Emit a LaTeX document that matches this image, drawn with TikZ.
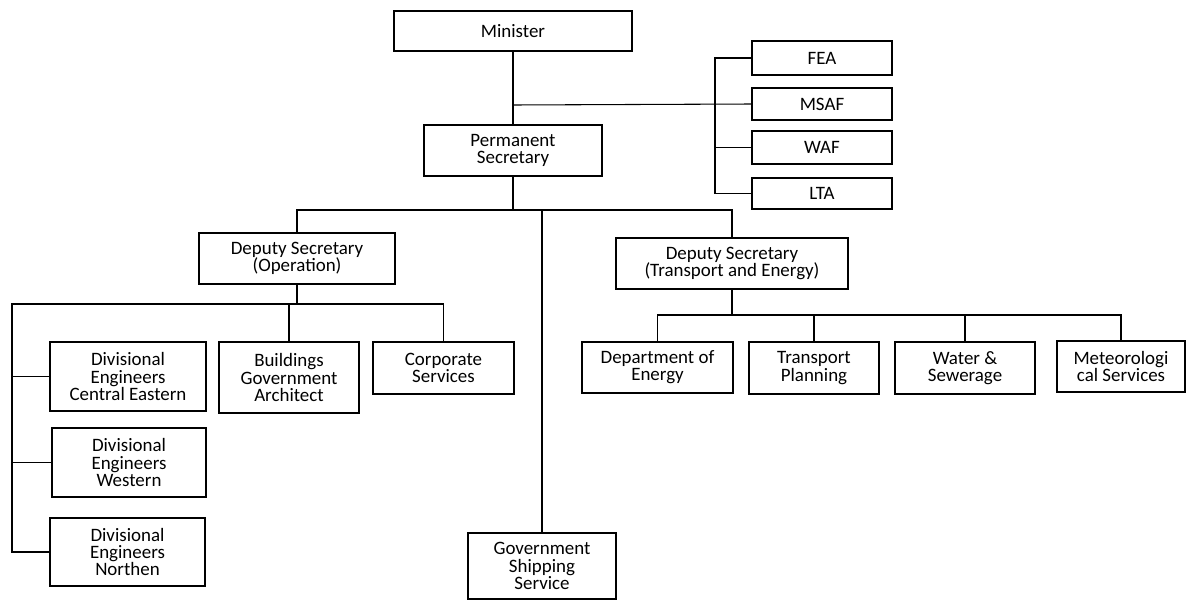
\documentclass[tikz,border=0pt]{standalone}
\usepackage{fontspec}
\setmainfont{Carlito}
\usetikzlibrary{calc}

% box given by its corners (x1,y1) (x2,y2) in pixel units
\newcommand{\orgbox}[6]{%
  \node[orgbox, minimum width={(#4-#2)*0.75pt}, minimum height={(#5-#3)*0.75pt}]
    (#1) at ({(#2+#4)/2},{(#3+#5)/2}) {#6};}

\tikzset{
  orgbox/.style={draw=black, line width=0.8pt, fill=white, inner sep=0pt,
    align=center, font=\fontsize{14.2}{12.9}\selectfont},
  link/.style={draw=black, line width=0.8pt}
}

\begin{document}
\begin{tikzpicture}[x=0.75pt, y=-0.75pt]
\useasboundingbox (0,0) rectangle (1186,600);

% bus lines
\coordinate (minbus) at (0,105);
\coordinate (brk) at (715,0);
\coordinate (psbus) at (0,210);
\coordinate (opbus) at (0,304);
\coordinate (rail) at (12,0);
\coordinate (tebus) at (0,315);

% top level
\orgbox{min}{394}{11}{632}{51}{Minister}
\orgbox{ps}{424}{125}{602}{176}{Permanent\\Secretary}

% agencies
\orgbox{fea}{752}{41}{892}{75}{FEA}
\orgbox{msaf}{752}{88}{892}{120}{MSAF}
\orgbox{waf}{752}{131}{892}{164}{WAF}
\orgbox{lta}{752}{178}{892}{209}{LTA}

% deputies and shipping
\orgbox{dso}{199}{233}{395}{284}{Deputy Secretary\\(Operation)}
\orgbox{dste}{616}{238}{848}{289}{Deputy Secretary\\(Transport and Energy)}
\orgbox{gss}{468}{533}{616}{599}{Government\\Shipping\\Service}

% operation branch
\orgbox{dce}{50}{342}{206}{411}{Divisional\\Engineers\\Central Eastern}
\orgbox{dwe}{52}{428}{206}{497}{Divisional\\Engineers\\Western}
\orgbox{dne}{50}{518}{205}{586}{Divisional\\Engineers\\Northen}
\orgbox{bga}{219}{342}{359}{413}{Buildings\\Government\\Architect}
\orgbox{corp}{373}{342}{514}{394}{Corporate\\Services}

% transport and energy branch
\orgbox{doe}{582}{342}{733}{393}{Department of\\Energy}
\orgbox{tp}{749}{342}{879}{394}{Transport\\Planning}
\orgbox{ws}{895}{342}{1035}{394}{Water \&\\Sewerage}
\orgbox{met}{1057}{341}{1185}{392}{Meteorologi\\cal Services}

% minister to permanent secretary and agencies
\draw[link] (min.south) -- (ps.north);
\draw[link] (min.south |- minbus) -- (msaf.west);
\draw[link] (fea.west) -- (brk |- fea.west) -- (brk |- lta.west) -- (lta.west);
\draw[link] (waf.west) -- (brk |- waf.west);

% permanent secretary to deputies
\draw[link] (ps.south) -- (ps.south |- psbus);
\draw[link] (dso.north) -- (dso.north |- psbus) -- (dste.north |- psbus) -- (dste.north);
\draw[link] (gss.north) -- (gss.north |- psbus);

% operation
\draw[link] (dso.south) -- (dso.south |- opbus);
\draw[link] (corp.north) -- (corp.north |- opbus) -- (rail |- opbus) -- (rail |- dne.west) -- (dne.west);
\draw[link] (bga.north) -- (bga.north |- opbus);
\draw[link] (dce.west) -- (rail |- dce.west);
\draw[link] (dwe.west) -- (rail |- dwe.west);

% transport and energy
\draw[link] (dste.south) -- (dste.south |- tebus);
\draw[link] (doe.north) -- (doe.north |- tebus) -- (met.north |- tebus) -- (met.north);
\draw[link] (tp.north) -- (tp.north |- tebus);
\draw[link] (ws.north) -- (ws.north |- tebus);
\end{tikzpicture}
\end{document}
